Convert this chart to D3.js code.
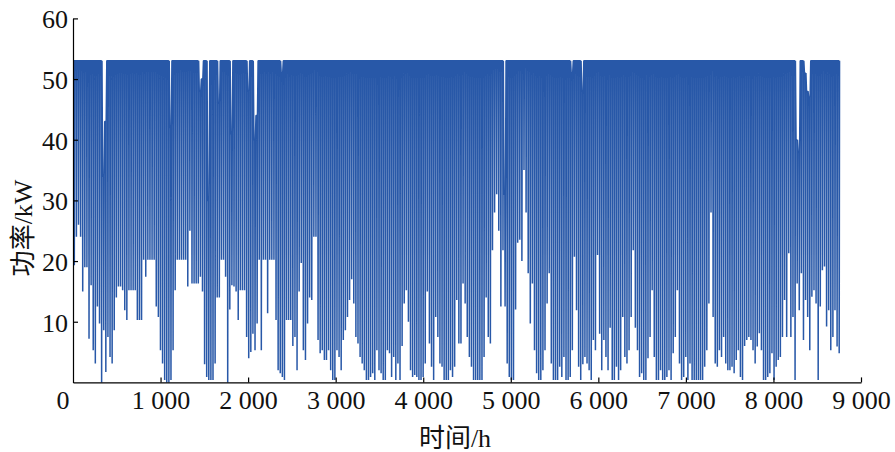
<!DOCTYPE html>
<html><head><meta charset="utf-8">
<script src="https://cdn.jsdelivr.net/npm/d3@7"></script>
<style>body{margin:0;background:#fff}svg{display:block}</style>
</head><body><svg id="c" width="895" height="452"></svg>
<script>
// ---- data ----
const xTicks = [0,1000,2000,3000,4000,5000,6000,7000,8000,9000];
const yTicks = [10,20,30,40,50,60];
const xLabel = "时间/h";
const yLabel = "功率/kW";
const hoursPerDay = 24;
// daily peak: the power cap, and days where the peak stayed below it [day, kW]
const peakCap = 53;
const peakDips = [[14,34],[15,43],[46,42],[60,48],[61,50],[64,30],[69,46],[75,41],[83,48],[86,40],[87,44],[99,51],[205,31],[237,51],[242,48],[344,40],[345,38],[348,51],[349,48],[350,47]];
// daily minimum power (kW), one value per day
const lowQ1 = [19.3,24,26,24,15,19,19,7.2,16,5.3, 3.1,12.5,9.7,0,8.6,1.7,7.5,4.2,3.1,8.6,
  14,15.8,15.8,15.2,11.9,10.3,15.2,15.2,15.2,15.2, 10.3,10.3,10.3,20.2,17.4,20.2,20.2,20.2,20.2,12.5,
  10.8,5.3,3.1,0.4,0,0,0.4,5.3,15.2,20.2, 20.2,20.2,20.2,20.2,15.8,25,16.3,16.3,16.3,16.3,
  17.4,15,3,0.9,0.4,0.4,0.4,3.1,14,14, 20.2,20.2,17.4,0,12,16,15.8,15,10.3,15.2,
  15.2,15.2,7.5,4,5,8,5.3,9.7,20.2,5.3];
const lowQ2 = [20.2,20.2,11.4,20.2,20.2,20.2,10.3,2,1.5,0.9, 0.4,10.3,10.3,10.3,6,7.5,2,15,19.7,5.3,
  3.7,9.7,14,13.6,24,24,7,4.8,5.3,3.7, 3.7,5.3,2,0.4,0.4,5.3,4.2,2,7,8.6,
  10.8,13.6,17,13,7.5,6.4,4.2,3.1,2,0.4, 0.4,0.9,1.5,0.4,5.3,2,1.5,0.4,0.4,5.3,
  4.8,0.9,4.2,0.4,3.1,0.4,6,13,15.2,10, 2,0.9,1.2,0.9,0.4,0.4,0.9,3.1,15,6.4,
  2.6,0.4,10.8,7.5,3.1,2.6,0.4,0.4,0.4,2, 0.9,2.6];
const lowQ3 = [13.6,6.4,6.4,16.3,13,7.5,4.2,2.6,
  0.4,0.4,0.4,0.4,0.4,4.2,14,7.5,6.4,21.8, 28,31,25,12.5,21.8,12.5,3.1,0.9,0.4,0.4,
  12,23,23.5,20,35,28,18,9.7,16.3,5.3, 1.5,0.4,0.4,2,5.3,13,18,3.1,0.4,0.4,
  0.4,2.6,0.9,4.2,0.4,0.4,0.9,5.3,20.7,11.9, 2.6,0.4,3,4.2,3.1,2,0.4,7,5.3,21,
  8,2,7,4.2,2,9,0.4,0.4,2.6,0.4, 2,10.8,4.2,3.1,5.3,10.8,21.8,9,5.3,0.9];
const lowQ4 = [1.5,0.4,0.4,4,7.5,15.2,4.2,0.4,0.4,2, 0.4,0.4,0.9,2,0.4,4.8,7.5,15.2,3.1,0.4,
  0.9,4.2,0.4,3.1,0.4,0.4,0.4,0.4,0.4,0.4, 2.6,5.3,13,28,10.8,3.1,2.6,5.3,4.2,7.5,
  3.1,2,2,2.6,1.5,3.7,5.3,0.9,0.4,6, 7,7.5,7,5.3,3.1,5.9,8.1,5.3,0.4,0.4,
  0.9,1.5,4.8,0.4,2.6,3.7,4.2,7.5,13.6,7.5, 21.3,7.5,10.8,0.4,16.3,11.9,18,7,13.6,10.8,
  5.3,14.1,15.2,13,0.4,12.5,18.5,19.1,9.2,11.9, 5.3,7.5,11.9,5.9,4.8];
const dailyLow = lowQ1.concat(lowQ2, lowQ3, lowQ4);
// hours of the day at which the daily peak is held and the daily low is reached
const peakHours = [2, 12];
const lowHour = 15;
const recoverHour = 19;

// ---- build series ----
const dipMap = new Map(peakDips);
const series = [];
dailyLow.forEach((lo, d) => {
  const hi = dipMap.has(d) ? dipMap.get(d) : peakCap;
  const t0 = d * hoursPerDay;
  series.push({h: t0 + peakHours[0], v: hi});
  series.push({h: t0 + peakHours[1], v: hi});
  series.push({h: t0 + lowHour, v: lo});
  series.push({h: t0 + recoverHour, v: hi});
});

// ---- draw ----
const svg = d3.select("#c");
const x = d3.scaleLinear().domain([0, 9000]).range([73, 861]);
const y = d3.scaleLinear().domain([0, 60]).range([382.4, 18.4]);
const fmt = d3.formatLocale({decimal: ".", thousands: " ", grouping: [3], currency: ["", ""]}).format(",");
const font = "'Liberation Serif','Times New Roman','Noto Sans CJK SC',serif";

svg.append("path")
  .datum(series)
  .attr("fill", "none")
  .attr("stroke", "#2858a8")
  .attr("stroke-width", 1.5)
  .attr("stroke-linejoin", "bevel")
  .attr("d", d3.line().x(d => x(d.h)).y(d => y(d.v)));

const xAxis = svg.append("g").attr("transform", `translate(0,${y(0)})`)
  .call(d3.axisBottom(x).tickValues(xTicks).tickFormat(fmt).tickSizeInner(-5).tickSizeOuter(0).tickPadding(8));
const yAxis = svg.append("g").attr("transform", `translate(${x(0)},0)`)
  .call(d3.axisLeft(y).tickValues(yTicks).tickSizeInner(-5).tickSizeOuter(0).tickPadding(5));

[xAxis, yAxis].forEach(g => {
  g.selectAll(".domain").attr("stroke", "#000").attr("stroke-width", 1.2);
  g.selectAll(".tick line").attr("stroke", "#000").attr("stroke-width", 1.2);
  g.selectAll("text").attr("fill", "#111").style("font-family", font).style("font-size", "26px");
});
xAxis.selectAll(".tick").filter(d => d === 0).select("line").remove();
xAxis.selectAll(".tick").filter(d => d === 0).select("text").attr("text-anchor", "end").attr("x", -4);
yAxis.selectAll(".tick text").attr("dy", "0.36em");

svg.append("text").attr("x", 455).attr("y", 447).attr("text-anchor", "middle")
  .style("font-family", font).style("font-size", "26px").attr("fill", "#111").text(xLabel);
svg.append("text").attr("transform", "translate(32,228) rotate(-90)").attr("text-anchor", "middle")
  .style("font-family", font).style("font-size", "26px").attr("fill", "#111").text(yLabel);
</script>
</body></html>
